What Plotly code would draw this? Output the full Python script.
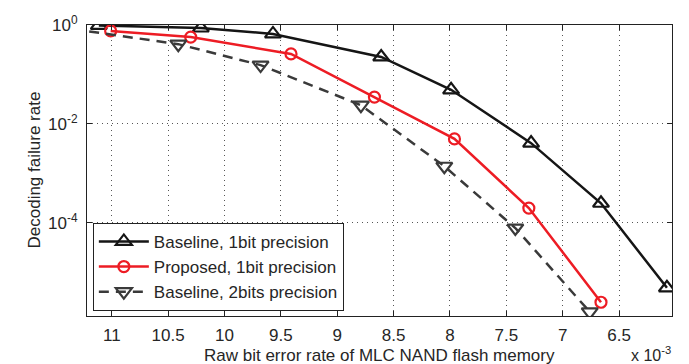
import plotly.graph_objects as go

# x values in units of 1e-3
ber_base1 = [11.115, 10.21, 9.57, 8.61, 7.99, 7.28, 6.66, 6.075]
fail_base1 = [0.98, 0.87, 0.66, 0.226, 0.049, 0.0041, 2.5e-4, 4.9e-6]

ber_prop1 = [11.01, 10.30, 9.41, 8.67, 7.96, 7.30, 6.66]
fail_prop1 = [0.76, 0.57, 0.26, 0.035, 0.005, 2.0e-4, 2.5e-6]

ber_base2 = [11.35, 10.41, 9.68, 8.79, 8.05, 7.42, 6.76]
fail_base2 = [0.83, 0.41, 0.155, 0.024, 0.0014, 7.9e-5, 1.6e-6]

x_ticks = [11, 10.5, 10, 9.5, 9, 8.5, 8, 7.5, 7, 6.5]
x_ticktext = ["11", "10.5", "10", "9.5", "9", "8.5", "8", "7.5", "7", "6.5"]
y_ticks = [1, 1e-2, 1e-4]
y_ticktext = ["10<sup>0</sup>", "10<sup>-2</sup>", "10<sup>-4</sup>"]

FONT = "Liberation Sans, Arial, sans-serif"
TXT = "#262626"

fig = go.Figure()
fig.add_trace(go.Scatter(
    x=ber_base1, y=fail_base1, mode="lines+markers",
    name="Baseline, 1bit precision",
    line=dict(color="#151515", width=2.5),
    marker=dict(symbol="triangle-up-open", size=14, color="#151515", line=dict(width=2.2)),
))
fig.add_trace(go.Scatter(
    x=ber_prop1, y=fail_prop1, mode="lines+markers",
    name="Proposed, 1bit precision",
    line=dict(color="#ED1C24", width=2.5),
    marker=dict(symbol="circle-open", size=11, color="#ED1C24", line=dict(width=2.2)),
))
fig.add_trace(go.Scatter(
    x=ber_base2, y=fail_base2, mode="lines+markers",
    name="Baseline, 2bits precision",
    line=dict(color="#3a3a3a", width=2.5, dash="10px,7px"),
    marker=dict(symbol="triangle-down-open", size=14, color="#3a3a3a", line=dict(width=2.2)),
))

axis_common = dict(
    showline=True, linecolor="#222", linewidth=1, mirror="ticks",
    ticks="inside", ticklen=5, tickcolor="#222",
    showgrid=True, gridcolor="#555", gridwidth=1, griddash="1px,4px",
    zeroline=False, automargin=False,
    tickfont=dict(family=FONT, size=17, color=TXT),
)

fig.update_xaxes(
    range=[11.22, 6.03], tickvals=x_ticks, ticktext=x_ticktext,
    ticklabelstandoff=4, **axis_common,
)
fig.update_yaxes(
    type="log", range=[-5.88, 0], tickvals=y_ticks, ticktext=y_ticktext,
    ticklabelstandoff=5, **axis_common,
)

fig.update_layout(
    template="none",
    width=689, height=364,
    margin=dict(l=79, r=25, t=17, b=56, pad=0),
    paper_bgcolor="white", plot_bgcolor="white",
    font=dict(family=FONT, size=17, color=TXT),
    showlegend=True,
    legend=dict(
        x=0.01, y=0.32, xanchor="left", yanchor="top",
        bgcolor="white", bordercolor="#222", borderwidth=1,
        font=dict(family=FONT, size=17, color=TXT),
        itemwidth=50, tracegroupgap=0,
    ),
    annotations=[
        dict(text="Raw bit error rate of MLC NAND flash memory", xref="paper", yref="paper",
             x=0.5, y=-0.137, xanchor="center", yanchor="middle", showarrow=False,
             font=dict(family=FONT, size=17, color=TXT)),
        dict(text="Decoding failure rate", xref="paper", yref="paper",
             x=(26 - 79) / 585, y=0.5, xanchor="center", yanchor="middle", textangle=-90,
             showarrow=False, font=dict(family=FONT, size=17, color=TXT)),
        dict(text="x 10<sup>-3</sup>", xref="paper", yref="paper",
             x=1.002, y=-0.132, xanchor="right", yanchor="middle", showarrow=False,
             font=dict(family=FONT, size=16, color=TXT)),
    ],
)

fig.write_html("out.html")
